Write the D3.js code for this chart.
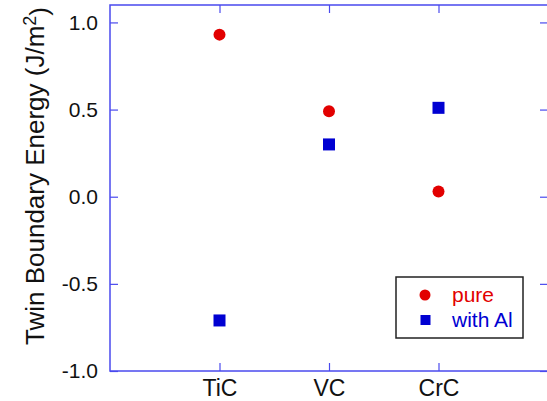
<!DOCTYPE html>
<html>
<head>
<meta charset="utf-8">
<script src="https://cdn.jsdelivr.net/npm/d3@7"></script>
<style>
  body { margin: 0; background: #fff; }
  svg { display: block; font-family: "Liberation Sans", Arial, sans-serif; }
</style>
</head>
<body>
<div id="main"></div>
<script>
var categories = ["TiC", "VC", "CrC"];
var pure = [0.93, 0.49, 0.03];
var withAl = [-0.71, 0.30, 0.51];
var yTicks = [-1.0, -0.5, 0.0, 0.5, 1.0];
var seriesNames = ["pure", "with Al"];

var W = 547, H = 401;
var margin = { top: 5, right: -1, bottom: 30, left: 110 };
var width = W - margin.left - margin.right;
var height = H - margin.top - margin.bottom;

var axisColor = "#4a4aee";
var red = "#e20000", blue = "#0000d2";

var svg = d3.select("#main")
  .append("svg")
  .attr("width", W)
  .attr("height", H);

var g = svg.append("g")
  .attr("transform", "translate(" + margin.left + "," + margin.top + ")");

// categories sit at 1, 2, 3 on a 0..4 axis
var x = d3.scaleLinear().domain([0, categories.length + 1]).range([0, width]);
var y = d3.scaleLinear().domain([-1, 1.1]).range([height, 0]);
var catX = function(i) { return x(i + 1); };

var fmt = function(d) { return d.toFixed(1); };

// left axis with labels
var leftAx = g.append("g")
  .call(d3.axisLeft(y).tickValues(yTicks).tickFormat(fmt).tickSizeInner(-8).tickSizeOuter(0).tickPadding(12));
// right mirror
var rightAx = g.append("g")
  .attr("transform", "translate(" + width + ",0)")
  .call(d3.axisRight(y).tickValues(yTicks).tickFormat("").tickSizeInner(-8).tickSizeOuter(0));
// bottom axis with labels
var bottomAx = g.append("g")
  .attr("transform", "translate(0," + height + ")")
  .call(d3.axisBottom(x).tickValues([1, 2, 3]).tickFormat(function(d) { return categories[d - 1]; })
    .tickSizeInner(-8).tickSizeOuter(0).tickPadding(9));
// top mirror
var topAx = g.append("g")
  .call(d3.axisTop(x).tickValues([1, 2, 3]).tickFormat("").tickSizeInner(-8).tickSizeOuter(0));

[leftAx, rightAx, bottomAx, topAx].forEach(function(a) {
  a.select(".domain").remove();
  a.selectAll(".tick line").attr("stroke", axisColor).attr("stroke-width", 1.2);
});
leftAx.selectAll(".tick text")
  .attr("fill", "#111")
  .style("font-size", "21px");
bottomAx.selectAll(".tick text")
  .attr("fill", "#111")
  .style("font-size", "23px");

// frame
g.append("rect")
  .attr("x", 0).attr("y", 0)
  .attr("width", width).attr("height", height)
  .attr("fill", "none")
  .attr("stroke", axisColor)
  .attr("stroke-width", 1.5);

// y label
var ylab = svg.append("text")
  .attr("transform", "translate(44," + (margin.top + 171) + ") rotate(-90)")
  .attr("text-anchor", "middle")
  .attr("fill", "#111")
  .style("font-size", "26px");
ylab.append("tspan").text("Twin Boundary Energy (J/m");
ylab.append("tspan").attr("dy", "-0.45em").style("font-size", "18px").text("2");
ylab.append("tspan").attr("dy", "0.45em").text(")");

// points
g.selectAll(".pure")
  .data(pure)
  .enter()
  .append("circle")
  .attr("class", "pure")
  .attr("cx", function(d, i) { return catX(i); })
  .attr("cy", function(d) { return y(d); })
  .attr("r", 6)
  .attr("fill", red);

var sq = 12;
g.selectAll(".al")
  .data(withAl)
  .enter()
  .append("rect")
  .attr("class", "al")
  .attr("x", function(d, i) { return catX(i) - sq / 2; })
  .attr("y", function(d) { return y(d) - sq / 2; })
  .attr("width", sq)
  .attr("height", sq)
  .attr("fill", blue);

// legend
var leg = svg.append("g").attr("transform", "translate(396,277)");
leg.append("rect")
  .attr("width", 127).attr("height", 61)
  .attr("fill", "#fff")
  .attr("stroke", "#222")
  .attr("stroke-width", 1.5);
var items = leg.selectAll(".item")
  .data(seriesNames)
  .enter()
  .append("g")
  .attr("transform", function(d, i) { return "translate(0," + (18 + i * 25) + ")"; });
items.each(function(d, i) {
  var it = d3.select(this);
  if (i === 0) {
    it.append("circle").attr("cx", 29).attr("cy", 0).attr("r", 5.5).attr("fill", red);
  } else {
    it.append("rect").attr("x", 24.5).attr("y", -5).attr("width", 10).attr("height", 10).attr("fill", blue);
  }
  it.append("text")
    .attr("x", 56)
    .attr("y", 0)
    .attr("dy", "0.35em")
    .attr("fill", i === 0 ? red : blue)
    .style("font-size", "21px")
    .text(d);
});
</script>
</body>
</html>
